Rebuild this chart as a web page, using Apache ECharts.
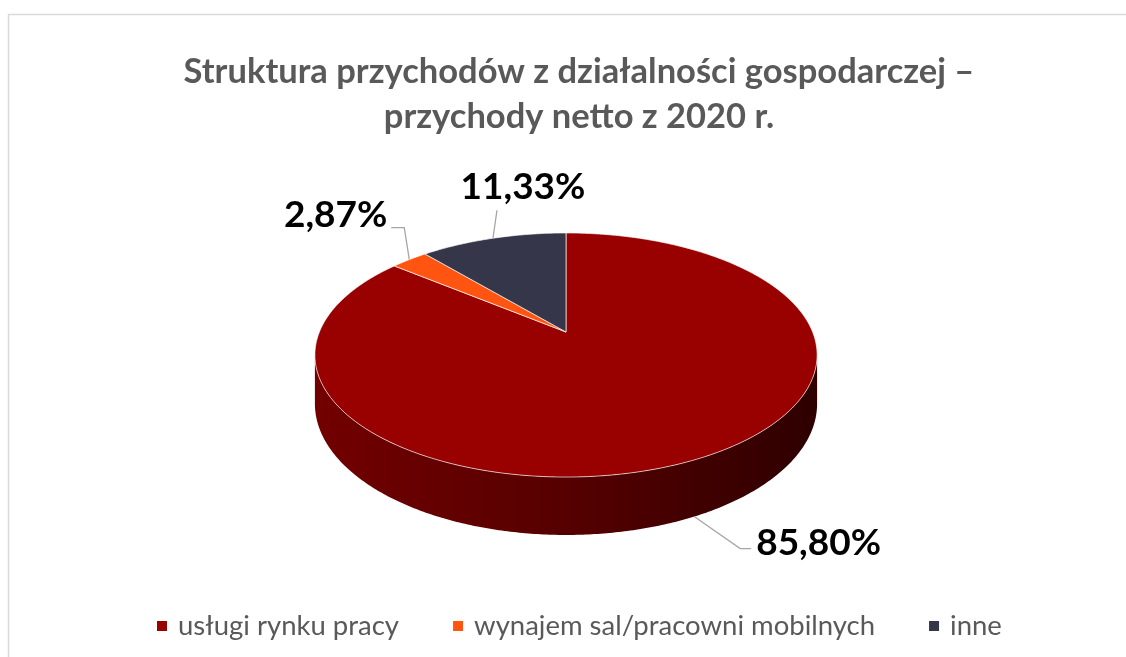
<!DOCTYPE html>
<html>
<head>
<meta charset="utf-8">
<script src="https://cdn.jsdelivr.net/npm/echarts@6/dist/echarts.min.js"></script>
<style>
  html, body { margin: 0; padding: 0; background: #fff; }
  #main { width: 1126px; height: 657px; }
</style>
</head>
<body>
<div id="main"></div>
<script>
// data
const categories = ['usługi rynku pracy', 'wynajem sal/pracowni mobilnych', 'inne'];
const shares = [85.80, 2.87, 11.33];
const shareLabels = ['85,80%', '2,87%', '11,33%'];

const colors = ['#990000', '#ff5511', '#353649'];

// pseudo-3D pie geometry (perspective projection of a tilted disc)
const CX = 566, CY = 332;     // projected centre
const RA = 246.6, RB = 117.7; // horizontal / vertical radii
const K = 0.1885;             // perspective strength
const DEPTH = 47;             // wall height

// leader line + label placement per slice
const labelLayout = [
  { elbow: [46, 32], run: 11, text: [5, -6], align: 'left' },
  { elbow: [-5, -32], run: -13, text: [-4, -13], align: 'right' },
  { elbow: [4, -28], run: 0, text: [26, -23], align: 'center' }
];

function proj(t) {
  const u = Math.sin(t), v = -Math.cos(t);
  const w = 1 - K * v;
  return [CX + RA * u / w, CY + RB * v / w, w];
}

function arc(a0, a1) {
  const n = Math.max(2, Math.ceil((a1 - a0) / 0.01));
  const pts = [];
  for (let k = 0; k <= n; k++) pts.push(proj(a0 + (a1 - a0) * k / n));
  return pts;
}

const total = shares.reduce((a, b) => a + b, 0);
const frontA = Math.acos(-K), frontB = 2 * Math.PI - Math.acos(-K);

function sliceRender(i) {
  return function (params, api) {
    let start = 0;
    for (let j = 0; j < i; j++) start += shares[j];
    const a0 = start / total * 2 * Math.PI;
    const a1 = (start + api.value(0)) / total * 2 * Math.PI;
    const children = [];

    // side wall (only the front part is visible)
    const w0 = Math.max(a0, frontA), w1 = Math.min(a1, frontB);
    if (w1 > w0) {
      const topPts = arc(w0, w1);
      const bot = topPts.slice().reverse().map(p => [p[0], p[1] + DEPTH / p[2]]);
      children.push({
        type: 'polygon',
        shape: { points: topPts.map(p => [p[0], p[1]]).concat(bot) },
        style: {
          fill: new echarts.graphic.LinearGradient(0, 0, 1, 0, [
            { offset: 0, color: '#720000' },
            { offset: 0.5, color: '#560000' },
            { offset: 1, color: '#2e0000' }
          ])
        }
      });
    }

    // top face
    const face = [[CX, CY]].concat(arc(a0, a1).map(p => [p[0], p[1]]));
    children.push({
      type: 'polygon',
      shape: { points: face },
      style: { fill: colors[i], stroke: 'rgba(255,255,255,0.65)', lineWidth: 1 }
    });

    // label with leader line
    const mid = (a0 + a1) / 2;
    const m = proj(mid);
    let anchor = [m[0], m[1]];
    if (mid > frontA && mid < frontB) anchor = [m[0], m[1] + DEPTH / m[2]];
    const L = labelLayout[i];
    const elbow = [anchor[0] + L.elbow[0], anchor[1] + L.elbow[1]];
    const end = [elbow[0] + L.run, elbow[1]];
    children.push({
      type: 'polyline',
      shape: { points: [anchor, elbow, end] },
      style: { stroke: '#a6a6a6', lineWidth: 1.3, fill: null }
    });
    children.push({
      type: 'text',
      x: end[0] + L.text[0],
      y: end[1] + L.text[1],
      style: {
        text: shareLabels[i],
        fill: '#000',
        font: 'bold 37px Lato',
        textAlign: L.align,
        textVerticalAlign: 'middle'
      }
    });

    return { type: 'group', children: children };
  };
}

const myChart = echarts.init(document.getElementById('main'));

const option = {
  animation: false,
  backgroundColor: '#fff',
  title: {
    text: 'Struktura przychodów z działalności gospodarczej –\nprzychody netto z 2020 r.',
    left: 574,
    textAlign: 'center',
    top: 44,
    textStyle: {
      fontFamily: 'Lato',
      fontSize: 34.5,
      fontWeight: 'bold',
      color: '#595959',
      lineHeight: 45
    }
  },
  legend: {
    top: 607,
    left: 152,
    icon: 'rect',
    itemWidth: 10,
    itemHeight: 10,
    itemGap: 54,
    data: categories.map((c, i) => ({ name: c, itemStyle: { color: colors[i] } })),
    textStyle: { fontFamily: 'Lato', fontSize: 27.5, color: '#595959', padding: [0, 0, 0, 6] }
  },
  graphic: [{
    type: 'rect',
    left: 6,
    top: 12,
    shape: { width: 1200, height: 700 },
    style: { fill: null, stroke: '#d9d9d9', lineWidth: 1.5 },
    silent: true
  }],
  series: categories.map((c, i) => ({
    type: 'custom',
    name: c,
    coordinateSystem: 'none',
    silent: true,
    itemStyle: { color: colors[i] },
    renderItem: sliceRender(i),
    data: [shares[i]]
  }))
};

myChart.setOption(option);
</script>
</body>
</html>
